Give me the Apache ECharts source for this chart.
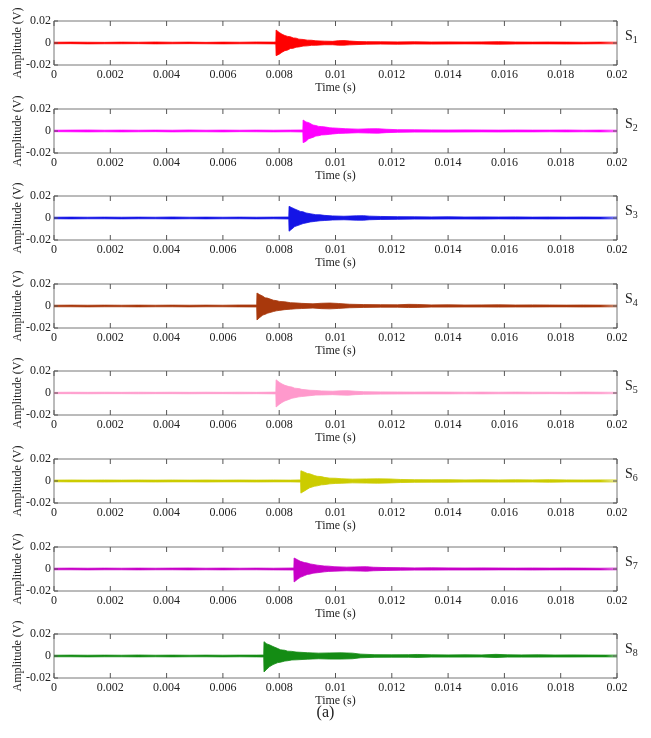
<!DOCTYPE html>
<html>
<head>
<meta charset="utf-8">
<script src="https://cdn.jsdelivr.net/npm/echarts@6/dist/echarts.min.js"></script>
<style>
html,body{margin:0;padding:0;background:#fff;}
#chart{width:651px;height:738px;}
</style>
</head>
<body>
<div id="chart"></div>
<script>
// Envelope of each signal: [time (ms), upper (mV), lower (mV)]
const s1 = [[0,0.7,-0.7],[0.6,0.8,-0.6],[1.2,0.7,-0.8],[1.8,0.6,-0.7],[2.4,0.8,-0.7],[3.0,0.7,-0.6],[3.6,0.9,-0.8],[4.2,0.7,-0.7],[4.8,0.8,-0.6],[5.4,0.6,-0.7],[6.0,0.8,-0.8],[6.6,0.7,-0.7],[7.2,0.9,-0.7],[7.8,0.8,-0.8],[7.88,1.0,-1.0],[7.89,11.8,-11.5],[7.95,11.0,-10.8],[8.0,9.6,-10.2],[8.05,9.9,-9.0],[8.1,8.0,-8.4],[8.15,8.3,-7.4],[8.2,6.8,-7.0],[8.3,6.0,-6.4],[8.4,5.6,-5.0],[8.5,4.6,-4.8],[8.6,4.4,-3.8],[8.7,3.5,-3.6],[8.85,3.2,-2.8],[9.0,2.6,-2.6],[9.15,2.5,-2.1],[9.3,2.0,-2.1],[9.6,1.7,-1.6],[9.9,1.5,-1.6],[10.1,2.1,-2.0],[10.3,2.2,-2.0],[10.5,1.8,-1.7],[10.8,1.3,-1.4],[11.1,1.2,-1.1],[11.6,1.1,-1.0],[12.2,1.0,-1.1],[12.8,1.1,-0.9],[13.4,0.9,-1.0],[14.0,1.0,-0.9],[14.6,0.9,-0.8],[15.2,1.0,-0.9],[15.8,1.2,-1.1],[16.4,0.9,-0.9],[17.0,0.8,-0.8],[17.6,0.9,-0.8],[18.2,0.8,-0.9],[18.8,0.7,-0.8],[19.4,0.8,-0.7],[20,0.7,-0.7]];
const s2 = [[0,0.7,-0.6],[0.6,0.8,-0.7],[1.2,0.9,-0.8],[1.8,0.7,-0.7],[2.4,0.8,-0.8],[3.0,0.7,-0.7],[3.6,0.8,-0.6],[4.2,0.7,-0.8],[4.8,0.9,-0.7],[5.4,0.7,-0.7],[6.0,0.8,-0.8],[6.6,0.7,-0.6],[7.2,0.8,-0.7],[7.8,0.7,-0.8],[8.4,0.8,-0.7],[8.84,0.9,-0.9],[8.85,10.0,-10.6],[8.9,9.4,-10.0],[8.95,8.2,-9.4],[9.0,7.8,-8.2],[9.05,7.6,-7.0],[9.1,6.4,-6.6],[9.2,5.4,-5.8],[9.3,5.0,-4.6],[9.4,4.2,-4.3],[9.5,4.0,-3.6],[9.65,3.6,-3.4],[9.8,2.9,-3.0],[9.9,2.8,-2.7],[10.1,2.5,-2.2],[10.35,2.1,-2.0],[10.8,1.7,-1.6],[11.2,2.0,-1.9],[11.5,2.1,-2.0],[11.8,1.6,-1.5],[12.2,1.2,-1.2],[12.8,1.1,-1.0],[13.4,1.0,-1.0],[14.0,0.9,-1.0],[14.6,1.0,-0.9],[15.2,0.9,-0.8],[15.8,0.8,-0.9],[16.4,0.9,-0.8],[17.0,0.8,-0.8],[17.6,0.8,-0.7],[18.2,0.9,-0.8],[18.8,0.7,-0.7],[19.4,0.8,-0.8],[20,0.7,-0.7]];
const s3 = [[0,0.7,-0.7],[0.6,0.8,-0.8],[1.2,0.7,-0.7],[1.8,0.8,-0.7],[2.4,0.7,-0.8],[3.0,0.8,-0.7],[3.6,0.7,-0.7],[4.2,0.9,-0.8],[4.8,0.7,-0.7],[5.4,0.8,-0.8],[6.0,0.7,-0.7],[6.6,0.8,-0.7],[7.2,0.7,-0.8],[7.8,0.8,-0.7],[8.34,0.9,-0.9],[8.35,10.6,-12.0],[8.4,10.0,-11.2],[8.45,9.4,-10.0],[8.5,8.4,-9.0],[8.55,8.2,-7.8],[8.6,7.0,-7.4],[8.75,6.0,-6.0],[8.85,5.6,-5.0],[8.95,4.6,-4.5],[9.1,3.9,-3.6],[9.3,3.0,-3.0],[9.45,2.9,-2.5],[9.6,2.4,-2.3],[9.9,1.9,-1.8],[10.3,1.6,-1.6],[10.75,2.0,-2.0],[11.0,2.1,-2.0],[11.2,1.7,-1.6],[11.6,1.4,-1.3],[12.2,1.2,-1.2],[12.8,1.1,-1.0],[13.4,1.0,-1.0],[14.0,1.1,-0.9],[14.6,0.9,-0.9],[15.2,1.0,-1.0],[15.8,0.9,-0.8],[16.4,1.0,-0.9],[17.0,0.8,-0.8],[17.6,0.9,-0.9],[18.2,0.8,-0.8],[18.8,0.9,-0.8],[19.4,0.8,-0.8],[20,0.8,-0.7]];
const s4 = [[0,0.7,-0.7],[0.6,0.8,-0.7],[1.2,0.7,-0.8],[1.8,0.8,-0.7],[2.4,0.7,-0.7],[3.0,0.8,-0.8],[3.6,0.7,-0.7],[4.2,0.8,-0.7],[4.8,0.7,-0.8],[5.4,0.8,-0.7],[6.0,0.7,-0.7],[6.6,0.9,-0.8],[7.2,0.9,-0.9],[7.21,11.8,-12.7],[7.26,11.0,-12.0],[7.3,10.4,-10.6],[7.35,9.2,-9.8],[7.42,8.9,-8.2],[7.5,7.4,-7.6],[7.58,7.2,-6.6],[7.65,6.2,-6.2],[7.8,5.2,-5.0],[7.9,4.9,-4.4],[8.0,4.2,-4.0],[8.2,3.8,-3.3],[8.4,3.0,-2.9],[8.6,2.8,-2.5],[8.8,2.4,-2.3],[9.2,2.0,-1.9],[9.5,2.5,-2.4],[9.8,2.7,-2.6],[10.1,2.3,-2.2],[10.5,1.6,-1.6],[11.0,1.3,-1.3],[11.6,1.2,-1.1],[12.2,1.1,-1.1],[12.6,1.5,-1.4],[12.9,1.4,-1.3],[13.4,1.0,-1.0],[14.0,1.1,-1.0],[14.6,0.9,-0.9],[15.2,1.0,-0.9],[15.8,1.1,-1.0],[16.4,0.9,-0.9],[17.0,1.0,-0.9],[17.6,0.9,-0.8],[18.2,0.8,-0.8],[18.8,0.9,-0.9],[19.4,0.8,-0.8],[20,0.7,-0.7]];
const s5 = [[0,0.6,-0.6],[0.6,0.7,-0.6],[1.2,0.6,-0.7],[1.8,0.7,-0.6],[2.4,0.6,-0.6],[3.0,0.7,-0.7],[3.6,0.6,-0.6],[4.2,0.7,-0.6],[4.8,0.6,-0.7],[5.4,0.7,-0.6],[6.0,0.6,-0.6],[6.6,0.7,-0.7],[7.2,0.6,-0.6],[7.88,0.8,-0.8],[7.89,12.0,-12.7],[7.95,11.2,-12.0],[8.0,9.8,-10.4],[8.05,9.6,-9.0],[8.1,8.2,-8.6],[8.15,8.0,-7.4],[8.2,7.0,-7.2],[8.35,5.8,-5.8],[8.45,5.4,-4.8],[8.55,4.4,-4.3],[8.7,4.0,-3.5],[8.8,3.3,-3.2],[9.1,2.5,-2.4],[9.3,2.3,-1.9],[9.5,1.9,-1.8],[9.9,1.6,-1.5],[10.2,2.0,-1.9],[10.45,2.1,-2.0],[10.7,1.6,-1.5],[11.0,1.2,-1.2],[11.6,1.0,-1.0],[12.2,0.9,-0.9],[12.8,0.8,-0.8],[13.4,0.9,-0.8],[14.0,0.8,-0.8],[14.6,0.7,-0.7],[15.2,0.8,-0.8],[15.8,0.7,-0.7],[16.4,0.8,-0.7],[17.0,0.7,-0.7],[17.6,0.7,-0.6],[18.2,0.6,-0.7],[18.8,0.8,-0.7],[19.4,0.7,-0.7],[20,0.6,-0.6]];
const s6 = [[0,0.8,-0.7],[0.6,0.9,-0.8],[1.2,0.8,-0.8],[1.8,0.9,-0.9],[2.4,0.8,-0.8],[3.0,0.9,-0.8],[3.6,0.8,-0.9],[4.2,0.9,-0.8],[4.8,0.8,-0.8],[5.4,0.9,-0.9],[6.0,0.8,-0.8],[6.6,0.9,-0.8],[7.2,0.8,-0.9],[7.8,0.9,-0.8],[8.4,0.8,-0.8],[8.76,1.0,-1.0],[8.77,9.3,-11.0],[8.83,8.8,-10.4],[8.9,8.0,-9.0],[8.95,7.8,-8.0],[9.0,6.8,-7.4],[9.08,6.6,-6.2],[9.15,5.4,-5.8],[9.25,5.0,-4.8],[9.35,4.3,-4.4],[9.5,4.0,-3.5],[9.6,3.3,-3.3],[9.8,2.6,-2.6],[10.0,2.5,-2.2],[10.2,2.1,-2.1],[10.6,1.7,-1.7],[11.1,1.9,-1.9],[11.5,2.0,-2.0],[11.9,1.9,-1.8],[12.3,1.4,-1.4],[12.8,1.2,-1.2],[13.4,1.1,-1.1],[14.0,1.2,-1.1],[14.6,1.0,-1.0],[15.2,1.1,-1.0],[15.8,1.0,-1.0],[16.4,1.1,-1.0],[17.0,1.0,-0.9],[17.6,1.2,-1.1],[18.2,1.0,-0.9],[18.8,0.9,-0.9],[19.4,1.0,-0.9],[20,0.9,-0.8]];
const s7 = [[0,0.7,-0.7],[0.6,0.8,-0.7],[1.2,0.7,-0.8],[1.8,0.8,-0.7],[2.4,0.7,-0.7],[3.0,0.8,-0.8],[3.6,0.7,-0.7],[4.2,0.8,-0.7],[4.8,0.9,-0.8],[5.4,0.7,-0.7],[6.0,0.8,-0.8],[6.6,0.7,-0.7],[7.2,0.8,-0.7],[7.8,0.7,-0.8],[8.52,0.9,-0.9],[8.53,10.0,-11.8],[8.58,9.4,-11.0],[8.65,8.4,-9.4],[8.7,8.2,-8.2],[8.75,7.0,-7.6],[8.82,6.8,-6.4],[8.9,5.8,-6.0],[9.0,5.4,-4.9],[9.1,4.6,-4.6],[9.2,4.2,-3.8],[9.35,3.5,-3.4],[9.6,2.7,-2.6],[9.75,2.6,-2.2],[9.95,2.1,-2.0],[10.4,1.7,-1.6],[10.9,2.0,-1.9],[11.1,2.1,-2.0],[11.35,1.6,-1.6],[11.8,1.3,-1.3],[12.3,1.2,-1.1],[12.8,1.0,-1.0],[13.4,1.1,-1.0],[14.0,1.0,-0.9],[14.6,0.9,-0.9],[15.2,1.0,-0.9],[15.8,0.9,-0.8],[16.4,0.8,-0.8],[17.0,0.9,-0.9],[17.6,0.8,-0.8],[18.2,0.9,-0.8],[18.8,0.8,-0.8],[19.4,0.7,-0.8],[20,0.8,-0.7]];
const s8 = [[0,0.7,-0.7],[0.6,0.8,-0.7],[1.2,0.7,-0.8],[1.8,0.8,-0.7],[2.4,0.7,-0.7],[3.0,0.9,-0.8],[3.6,0.7,-0.7],[4.2,0.8,-0.8],[4.8,0.7,-0.7],[5.4,0.8,-0.7],[6.0,0.7,-0.8],[6.6,0.8,-0.7],[7.2,0.8,-0.8],[7.45,0.9,-0.9],[7.46,13.0,-14.5],[7.52,12.2,-13.6],[7.56,11.0,-12.0],[7.6,10.6,-11.4],[7.65,10.2,-9.8],[7.7,9.0,-9.4],[7.78,8.6,-7.8],[7.85,7.2,-7.4],[7.95,6.8,-6.0],[8.05,5.6,-5.6],[8.2,5.2,-4.6],[8.3,4.4,-4.3],[8.45,4.2,-3.6],[8.6,3.6,-3.5],[9.0,3.0,-2.9],[9.4,2.6,-2.5],[9.8,2.8,-2.8],[10.2,2.9,-2.8],[10.6,2.6,-2.5],[10.9,1.7,-1.6],[11.4,1.2,-1.2],[12.0,1.1,-1.1],[12.6,1.2,-1.1],[12.9,1.4,-1.3],[13.4,1.1,-1.0],[14.0,1.0,-1.0],[14.6,1.1,-1.0],[15.2,1.0,-0.9],[15.7,1.5,-1.4],[16.1,1.1,-1.0],[16.6,1.0,-1.0],[17.2,1.1,-1.0],[17.8,0.9,-0.9],[18.4,1.0,-0.9],[19.0,0.9,-0.8],[19.6,0.8,-0.8],[20,0.8,-0.8]];

const signals = [s1, s2, s3, s4, s5, s6, s7, s8];
const labels = ['1','2','3','4','5','6','7','8'];
const colors = ['#ff0000','#ff00ff','#1414e6','#a8380c','#ff99cc','#cccc00','#c800c8','#148c14'];
const xTicks = [0, 0.002, 0.004, 0.006, 0.008, 0.01, 0.012, 0.014, 0.016, 0.018, 0.02];
const yTicks = [-0.02, 0, 0.02];

const FONT = 'Liberation Serif';
const frameColor = '#777';
const tickColor = '#555';
const textColor = '#222';
const grids = [], xAxes = [], yAxes = [], series = [], graphics = [];
const TOP0 = 21, STEP = 87.6, H = 44, LEFT = 54, RIGHT = 34;
const XT = 5, YT = 4; // tick lengths in px

const X_MIN = xTicks[0], X_MAX = xTicks[xTicks.length - 1];
const Y_MIN = yTicks[0], Y_MAX = yTicks[yTicks.length - 1];

// inward ticks at top/bottom edges, drawn through the axes' own scales
function renderXTick(params, api) {
  const x = api.value(0);
  const pt = api.coord([x, Y_MAX]);
  const pb = api.coord([x, Y_MIN]);
  const st = {stroke: tickColor, lineWidth: 1};
  return {type: 'group', children: [
    {type: 'line', shape: {x1: pt[0], y1: pt[1], x2: pt[0], y2: pt[1] + XT}, style: st},
    {type: 'line', shape: {x1: pb[0], y1: pb[1], x2: pb[0], y2: pb[1] - XT}, style: st}
  ]};
}
// inward ticks at left/right edges
function renderYTick(params, api) {
  const y = api.value(1);
  const pl = api.coord([X_MIN, y]);
  const pr = api.coord([X_MAX, y]);
  const st = {stroke: tickColor, lineWidth: 1};
  return {type: 'group', children: [
    {type: 'line', shape: {x1: pl[0], y1: pl[1], x2: pl[0] + YT, y2: pl[1]}, style: st},
    {type: 'line', shape: {x1: pr[0], y1: pr[1], x2: pr[0] - YT, y2: pr[1]}, style: st}
  ]};
}

signals.forEach((sig, i) => {
  const top = Math.round(TOP0 + STEP * i);
  grids.push({left: LEFT, right: RIGHT, top: top, height: H, show: true,
    borderColor: frameColor, borderWidth: 1, backgroundColor: 'transparent',
    containLabel: false, outerBoundsMode: 'none'});
  xAxes.push({type: 'value', gridIndex: i, min: X_MIN, max: X_MAX, interval: xTicks[1] - xTicks[0],
    position: 'bottom', axisLine: {show: false, onZero: false}, axisTick: {show: false},
    splitLine: {show: false},
    axisLabel: {color: textColor, fontFamily: FONT, fontSize: 12, margin: 4,
      formatter: v => String(+v.toFixed(3))},
    name: 'Time (s)', nameLocation: 'middle', nameGap: 17, nameMoveOverlap: false,
    nameTextStyle: {color: textColor, fontFamily: FONT, fontSize: 12}});
  yAxes.push({type: 'value', gridIndex: i, min: Y_MIN, max: Y_MAX, interval: yTicks[1] - yTicks[0],
    position: 'left', axisLine: {show: false, onZero: false}, axisTick: {show: false},
    splitLine: {show: false},
    axisLabel: {color: textColor, fontFamily: FONT, fontSize: 12, margin: 3,
      formatter: v => String(+v.toFixed(3))},
    name: 'Amplitude (V)', nameLocation: 'middle', nameGap: 30, nameRotate: 90, nameMoveOverlap: false,
    nameTextStyle: {color: textColor, fontFamily: FONT, fontSize: 12}});

  const hi = sig.map(p => [p[0] / 1000, p[1] / 1000]);
  const lo = sig.map(p => [p[0] / 1000, p[2] / 1000]);
  [hi, lo].forEach(d => {
    series.push({type: 'line', xAxisIndex: i, yAxisIndex: i, data: d,
      showSymbol: false, symbol: 'none', silent: true, animation: false, z: 1,
      lineStyle: {color: colors[i], width: 0.8},
      areaStyle: {color: colors[i], opacity: 1, origin: 0}});
  });

  series.push({type: 'custom', xAxisIndex: i, yAxisIndex: i, silent: true, animation: false, z: 5,
    clip: false, renderItem: renderXTick, encode: {x: 0, y: 1},
    data: xTicks.map(v => [v, 0])});
  series.push({type: 'custom', xAxisIndex: i, yAxisIndex: i, silent: true, animation: false, z: 5,
    clip: false, renderItem: renderYTick, encode: {x: 0, y: 1},
    data: yTicks.map(v => [0, v])});

  graphics.push({type: 'text', left: 625, top: top + 8,
    style: {text: '{s|S}{n|' + labels[i] + '}',
      rich: {s: {fontFamily: FONT, fontSize: 14, fill: textColor},
             n: {fontFamily: FONT, fontSize: 10, fill: textColor, padding: [8, 0, 0, 0]}}}});
});

graphics.push({type: 'text', left: 'center', top: 705,
  style: {text: '(a)', fontFamily: FONT, fontSize: 16, fill: textColor}});

const chart = echarts.init(document.getElementById('chart'), null, {renderer: 'canvas'});
chart.setOption({
  animation: false,
  backgroundColor: '#fff',
  grid: grids, xAxis: xAxes, yAxis: yAxes, series: series, graphic: graphics
});
</script>
</body>
</html>
